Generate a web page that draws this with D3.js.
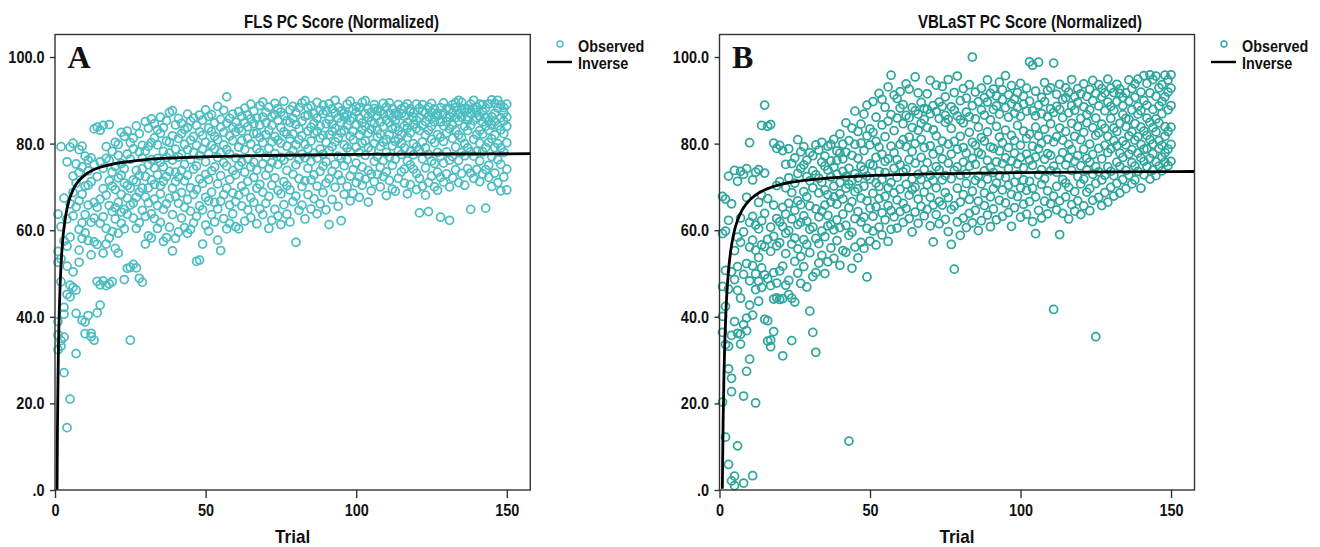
<!DOCTYPE html>
<html>
<head>
<meta charset="utf-8">
<script src="https://cdn.jsdelivr.net/npm/d3@7"></script>
<style>
    body { margin: 0; background: #fff; }
    svg text { font-family: "Liberation Sans", Arial, sans-serif; font-weight: bold; fill: #111; }
</style>
</head>
<body>
<script>
/*eslint-env browser*/
/*global d3 */

// ---------------------------------------------------------------------------
// Data. Each inner list holds the scores of
// one trial (trial 1 first, trial 150 last).
// ---------------------------------------------------------------------------
var trialNumbers = d3.range(1, 151);

var xTicks = [0, 50, 100, 150];
var yTicks = [0, 20, 40, 60, 80, 100];
var yTickLabels = [".0", "20.0", "40.0", "60.0", "80.0", "100.0"];

var titles = ["FLS PC Score (Normalized)", "VBLaST PC Score (Normalized)"];
var panelLetters = ["A", "B"];
var legendLabels = ["Observed", "Inverse"];
var xLabel = "Trial";

// panel A : FLS scores
var flsScores = [
    [32.4, 35.8, 38.9, 52.6, 55.1, 63.7], [33.2, 34.5, 48.1, 53.4, 60.8, 79.3],
    [27.1, 35.3, 40.6, 42.2, 57.5, 67.4], [14.4, 45.2, 51.7, 56.3, 62.6, 75.8],
    [21.0, 44.6, 47.3, 58.4, 66.1, 79.2], [46.8, 50.4, 63.3, 68.7, 72.5, 80.1],
    [31.5, 40.8, 46.2, 65.4, 70.9, 75.3], [52.6, 55.4, 60.2, 66.8, 73.3, 78.6],
    [39.2, 58.1, 61.7, 68.3, 74.6, 79.4], [36.1, 38.8, 59.4, 63.6, 70.2, 77.1],
    [40.3, 57.6, 65.8, 70.4, 73.7, 76.2], [35.4, 36.2, 54.3, 61.8, 71.2, 76.7],
    [34.6, 57.3, 62.8, 66.4, 75.2, 83.4], [40.9, 48.2, 56.7, 65.3, 72.4, 83.8],
    [42.7, 47.4, 61.6, 67.2, 75.8, 83.1], [48.3, 54.7, 63.1, 69.6, 74.3, 84.2],
    [47.2, 56.8, 60.4, 68.1, 76.6, 79.3], [47.6, 58.2, 65.7, 71.4, 76.1, 84.4],
    [48.1, 59.7, 64.3, 70.2, 73.4, 78.2], [55.8, 62.6, 65.2, 69.4, 74.7, 80.3],
    [54.7, 59.3, 66.4, 72.1, 77.3, 79.8], [61.6, 64.2, 68.3, 72.7, 75.4, 82.6],
    [48.6, 60.3, 64.8, 70.9, 74.2, 81.7], [51.2, 63.7, 67.4, 70.3, 77.6, 82.9],
    [34.6, 51.4, 65.8, 69.7, 76.4, 80.2], [52.1, 62.8, 66.3, 71.6, 78.8, 81.3],
    [51.3, 60.4, 67.6, 71.2, 73.8, 84.1], [48.9, 61.7, 68.8, 72.6, 78.1, 82.3],
    [48.0, 64.6, 69.7, 74.2, 76.7, 79.6], [56.8, 63.2, 67.7, 72.4, 78.3, 85.1],
    [58.7, 66.3, 69.8, 75.1, 79.4, 83.6], [58.2, 63.8, 71.6, 76.3, 80.2, 85.7],
    [62.7, 67.2, 70.6, 74.4, 81.3, 84.6], [60.4, 65.7, 72.8, 76.6, 79.7, 83.2],
    [61.8, 68.4, 70.3, 75.7, 82.4, 86.1], [57.4, 64.8, 71.3, 74.6, 78.2, 83.7],
    [58.3, 66.1, 72.4, 76.8, 80.6, 85.3], [60.7, 67.4, 73.6, 77.8, 80.3, 87.2],
    [55.2, 63.6, 69.7, 76.2, 81.8, 87.6], [58.1, 67.8, 71.2, 73.4, 78.7, 84.3],
    [59.6, 66.2, 72.3, 76.9, 81.2, 85.8], [62.8, 68.7, 73.8, 77.6, 82.3, 84.7],
    [60.6, 65.3, 71.4, 75.2, 79.8, 83.3], [59.3, 67.1, 72.7, 78.6, 83.7, 86.8],
    [60.2, 64.4, 69.8, 76.3, 80.8, 85.2], [61.7, 68.3, 74.1, 77.9, 81.6, 85.9],
    [52.8, 63.2, 69.4, 74.8, 79.6, 84.2], [53.1, 65.6, 71.8, 77.2, 82.7, 86.6],
    [56.8, 64.7, 70.8, 78.7, 81.9, 85.4], [61.2, 67.6, 72.9, 75.8, 80.3, 87.8],
    [59.8, 66.8, 71.7, 77.7, 83.6, 86.3], [63.6, 68.8, 73.7, 79.6, 82.8, 86.7],
    [61.9, 66.4, 74.6, 78.8, 81.7, 84.8], [57.7, 64.9, 70.7, 76.8, 80.9, 88.6],
    [55.3, 66.7, 72.6, 77.9, 83.8, 85.6], [62.7, 68.2, 75.6, 79.7, 82.6, 87.7],
    [60.3, 69.7, 74.8, 78.6, 84.7, 90.8], [61.6, 65.8, 71.7, 77.6, 81.8, 85.8],
    [63.8, 68.6, 73.8, 80.7, 83.8, 86.8], [60.8, 66.6, 72.8, 76.7, 82.7, 84.9],
    [60.3, 68.1, 74.9, 79.2, 83.5, 87.4], [65.6, 70.2, 75.8, 80.7, 82.9, 86.3],
    [62.1, 68.9, 73.4, 78.6, 84.8, 88.2], [64.7, 71.3, 76.5, 81.2, 83.9, 86.6],
    [62.9, 67.5, 74.6, 79.9, 85.7, 89.1], [66.4, 72.2, 75.7, 82.3, 84.6, 87.5],
    [61.5, 69.7, 73.9, 78.8, 82.4, 85.9], [64.9, 70.6, 77.9, 81.4, 84.3, 88.8],
    [63.6, 68.8, 75.3, 80.2, 86.1, 89.6], [66.2, 72.7, 76.9, 82.1, 84.8, 87.2],
    [60.4, 67.8, 74.3, 78.9, 83.1, 88.4], [62.3, 70.4, 75.6, 80.4, 84.2, 86.3],
    [64.8, 72.1, 77.7, 81.6, 86.7, 89.3], [63.3, 69.2, 75.2, 80.8, 85.4, 88.1],
    [61.3, 68.4, 76.8, 80.1, 83.7, 87.3], [65.9, 71.2, 76.2, 82.7, 86.4, 89.8],
    [63.7, 70.3, 73.8, 79.4, 82.2, 85.3], [61.9, 69.3, 77.2, 81.1, 84.9, 87.8],
    [66.6, 72.9, 78.4, 82.2, 85.8, 88.6], [57.2, 67.9, 75.1, 79.7, 84.4, 87.1],
    [64.6, 71.9, 76.3, 80.9, 83.4, 88.3], [65.8, 70.1, 77.6, 81.8, 85.2, 89.4],
    [62.6, 71.4, 76.7, 79.8, 86.3, 89.9], [68.2, 74.3, 78.8, 82.9, 86.6, 88.2],
    [64.9, 71.6, 75.9, 80.6, 83.8, 88.7], [67.3, 72.8, 77.8, 82.4, 84.7, 86.9],
    [63.8, 70.2, 76.6, 82.8, 85.9, 89.5], [66.1, 73.6, 78.7, 81.3, 84.1, 87.7],
    [68.7, 74.8, 77.6, 81.9, 86.9, 88.9], [64.7, 70.9, 75.8, 80.3, 84.6, 87.6],
    [61.3, 71.9, 78.4, 82.1, 85.5, 89.2], [67.1, 73.6, 79.3, 82.9, 84.5, 88.0],
    [69.9, 75.2, 80.4, 83.5, 87.1, 90.0], [65.5, 72.8, 77.1, 81.3, 85.9, 88.4],
    [62.2, 71.5, 76.6, 82.5, 84.9, 87.5], [68.3, 74.9, 79.7, 83.0, 86.2, 87.0],
    [70.1, 76.3, 79.0, 84.3, 86.6, 89.1], [66.8, 72.5, 78.1, 81.7, 85.3, 89.8],
    [68.5, 74.0, 80.9, 82.8, 86.0, 87.9], [71.0, 75.5, 79.2, 84.4, 87.3, 88.5],
    [67.6, 72.3, 77.9, 82.0, 85.8, 88.3], [70.4, 74.6, 80.1, 83.2, 84.8, 89.5],
    [71.8, 77.3, 80.6, 84.0, 86.9, 89.9], [66.5, 73.8, 79.1, 82.4, 86.1, 88.0],
    [69.1, 73.0, 78.5, 83.3, 85.1, 87.2], [71.2, 75.9, 80.0, 84.6, 88.1, 89.0],
    [72.9, 77.0, 81.5, 83.1, 86.4, 87.6], [70.0, 74.5, 79.4, 82.2, 85.0, 87.4],
    [72.4, 76.1, 80.3, 83.9, 86.8, 89.3], [68.0, 73.5, 78.0, 81.0, 85.5, 88.4],
    [71.5, 76.9, 82.1, 84.9, 87.0, 89.4], [69.5, 75.0, 79.5, 83.4, 86.0, 88.1],
    [69.0, 76.4, 80.5, 83.8, 85.2, 87.0], [72.0, 78.3, 81.1, 83.0, 86.5, 89.0],
    [73.5, 77.5, 80.1, 82.0, 86.9, 88.0], [70.9, 74.1, 79.0, 84.1, 86.3, 88.5],
    [68.4, 76.0, 81.4, 83.6, 84.9, 89.2], [70.5, 75.1, 78.2, 82.5, 87.4, 88.0],
    [74.1, 77.4, 80.0, 84.5, 86.1, 87.1], [69.4, 73.1, 79.2, 83.5, 85.4, 89.1],
    [64.0, 72.0, 78.5, 83.0, 86.0, 88.2], [70.2, 76.5, 80.4, 84.2, 87.5, 89.0],
    [68.1, 74.4, 79.0, 82.0, 85.1, 87.1], [64.3, 71.0, 77.5, 83.1, 86.2, 88.4],
    [72.5, 76.0, 81.0, 84.0, 87.2, 89.3], [70.0, 75.4, 80.2, 85.0, 86.1, 88.0],
    [69.2, 73.4, 78.0, 82.1, 86.4, 87.0], [63.0, 72.2, 77.1, 81.5, 85.0, 88.3],
    [71.1, 75.5, 80.5, 84.1, 87.0, 89.4], [73.0, 78.1, 82.4, 85.1, 86.0, 88.1],
    [62.3, 70.0, 76.2, 83.4, 86.1, 88.0], [72.1, 77.0, 81.2, 84.3, 87.1, 89.0],
    [74.0, 79.2, 83.1, 86.0, 88.3, 89.4], [71.0, 76.1, 82.0, 85.2, 87.0, 90.0],
    [73.1, 78.0, 81.3, 86.1, 88.0, 89.5], [70.4, 77.2, 80.0, 84.0, 87.3, 88.1],
    [74.2, 79.0, 83.0, 85.4, 86.2, 88.0], [64.8, 73.2, 78.1, 84.2, 87.0, 89.1],
    [72.0, 77.1, 81.0, 85.3, 88.1, 90.0], [74.0, 78.2, 82.1, 86.0, 87.2, 88.4],
    [71.2, 76.0, 80.1, 83.0, 86.3, 89.1], [73.0, 78.1, 82.2, 85.0, 87.4, 89.0],
    [65.1, 74.0, 79.1, 84.0, 86.0, 88.2], [72.2, 75.0, 80.3, 83.1, 85.2, 89.2],
    [70.1, 77.0, 81.1, 84.3, 86.2, 90.1], [73.2, 79.1, 82.0, 85.1, 87.0, 89.3],
    [71.0, 76.3, 80.0, 84.1, 88.2, 90.0], [69.1, 75.2, 79.0, 83.2, 86.0, 89.0],
    [72.3, 78.0, 82.3, 85.2, 87.1, 88.3], [69.3, 74.1, 80.2, 84.0, 86.1, 89.1]
];

// panel B : VBLaST scores
var vblastScores = [
    [20.3, 36.4, 40.1, 47.0, 59.2, 67.8], [12.2, 33.6, 42.4, 50.7, 59.8, 67.2],
    [5.9, 28.0, 33.2, 46.4, 62.3, 72.5], [2.1, 22.7, 25.8, 35.7, 50.4, 66.1],
    [1.0, 3.2, 38.9, 48.6, 55.3, 73.8], [10.2, 36.2, 46.1, 51.6, 58.4, 71.3],
    [33.7, 36.0, 44.3, 57.2, 62.8, 73.6], [1.6, 21.7, 38.2, 49.8, 59.6, 72.9],
    [27.4, 36.8, 39.7, 52.3, 67.6, 74.2], [30.2, 42.7, 48.3, 56.1, 61.8, 80.2],
    [3.3, 40.4, 51.8, 57.7, 63.2, 71.6], [20.1, 46.3, 49.9, 55.4, 61.2, 73.4],
    [43.6, 48.2, 53.7, 60.3, 66.4, 74.0], [46.8, 51.3, 56.6, 62.2, 68.1, 84.2],
    [39.4, 49.7, 56.2, 63.9, 73.2, 88.9], [34.4, 39.1, 48.8, 57.9, 67.3, 84.0],
    [33.1, 34.6, 47.2, 55.1, 60.7, 84.4], [36.6, 44.1, 50.2, 58.6, 65.8, 80.1],
    [44.4, 47.8, 56.4, 62.7, 70.3, 78.9], [44.0, 50.6, 57.1, 61.9, 71.2, 79.6],
    [31.0, 44.2, 51.7, 60.8, 65.3, 78.4], [47.3, 54.6, 59.3, 63.7, 69.8, 75.2],
    [45.1, 48.4, 59.9, 66.2, 72.1, 78.8], [34.5, 44.3, 56.8, 62.6, 68.7, 75.4],
    [43.4, 52.8, 58.2, 64.6, 70.9, 76.7], [50.1, 55.7, 61.3, 66.8, 73.1, 80.9],
    [47.7, 53.9, 61.8, 65.9, 74.3, 78.1], [51.6, 57.8, 63.3, 68.9, 75.1, 79.3],
    [46.9, 56.7, 62.1, 67.7, 72.4, 76.2], [41.3, 54.8, 60.2, 65.6, 71.4, 77.9],
    [36.4, 49.3, 60.7, 69.8, 73.7, 77.2], [31.8, 50.2, 58.1, 64.9, 72.8, 79.7],
    [52.4, 56.9, 63.1, 68.6, 72.0, 78.5], [54.2, 59.8, 64.4, 71.1, 75.7, 80.3],
    [50.0, 58.5, 65.8, 69.3, 74.8, 77.1], [52.7, 61.0, 63.4, 68.2, 73.9, 79.4],
    [55.9, 61.3, 66.5, 72.3, 76.0, 79.8], [53.5, 60.1, 67.7, 70.2, 74.6, 81.0],
    [57.6, 62.4, 66.0, 72.9, 76.1, 78.3], [51.9, 60.6, 68.4, 71.0, 77.8, 82.2],
    [55.3, 63.7, 67.2, 73.6, 76.5, 79.9], [54.9, 61.1, 69.7, 72.4, 78.0, 84.8],
    [11.3, 58.8, 65.2, 70.6, 74.3, 80.7], [51.2, 59.5, 66.6, 71.4, 77.3, 83.6],
    [56.1, 62.7, 68.9, 73.0, 79.8, 87.5], [53.6, 64.3, 69.6, 72.1, 76.6, 82.8],
    [57.2, 61.9, 67.4, 74.7, 80.1, 84.5], [55.8, 63.0, 70.2, 73.9, 78.4, 86.8],
    [49.2, 60.4, 66.8, 72.5, 81.8, 88.9], [57.5, 65.1, 71.8, 75.3, 79.7, 83.4],
    [59.8, 63.2, 68.5, 75.0, 82.6, 89.7], [56.6, 65.4, 70.9, 76.8, 80.5, 86.1],
    [60.7, 67.3, 70.1, 73.6, 79.2, 91.6], [58.9, 64.0, 71.7, 77.5, 84.3, 90.2],
    [62.4, 67.8, 73.3, 75.9, 81.6, 88.4], [57.4, 65.7, 69.8, 76.5, 85.2, 93.1],
    [60.2, 64.5, 71.0, 79.4, 86.7, 95.8], [63.1, 68.6, 74.3, 77.9, 83.0, 91.2],
    [60.5, 67.0, 72.2, 76.3, 85.9, 90.4], [64.3, 69.5, 75.1, 79.8, 88.2, 92.0],
    [61.8, 66.2, 73.5, 80.9, 84.6, 89.0], [65.0, 70.6, 74.1, 79.3, 86.5, 93.8],
    [62.7, 68.1, 76.3, 81.5, 86.0, 92.6], [59.6, 69.4, 71.8, 78.2, 83.7, 88.3],
    [64.2, 69.9, 75.5, 80.0, 87.6, 95.4], [61.6, 67.2, 72.9, 83.1, 86.8, 91.7],
    [65.5, 71.7, 76.8, 81.0, 84.7, 89.5], [63.3, 68.8, 74.0, 79.1, 85.6, 88.1],
    [64.8, 70.5, 75.6, 83.7, 87.9, 91.5], [61.0, 67.6, 72.7, 79.5, 86.9, 94.6],
    [57.3, 65.8, 71.5, 77.6, 83.2, 88.8], [63.6, 69.8, 74.7, 81.8, 87.4, 93.5],
    [61.5, 66.6, 73.9, 78.5, 85.8, 89.6], [65.8, 71.6, 76.5, 80.6, 88.6, 93.2],
    [62.5, 68.7, 72.6, 84.9, 86.5, 90.8], [59.7, 67.5, 75.5, 79.9, 85.6, 94.8],
    [56.7, 64.8, 71.9, 77.6, 83.5, 88.5], [51.0, 65.6, 73.8, 80.5, 87.7, 91.8],
    [61.9, 69.7, 74.6, 78.7, 86.4, 95.6], [58.8, 66.5, 72.7, 81.7, 85.5, 89.9],
    [62.8, 68.2, 75.7, 79.1, 84.8, 92.7], [60.6, 70.8, 73.0, 77.8, 87.3, 90.5],
    [63.9, 67.1, 74.8, 82.6, 86.2, 93.6], [61.7, 69.0, 76.6, 80.3, 88.8, 100.0],
    [64.6, 71.5, 75.2, 79.6, 85.7, 91.9], [59.9, 66.7, 72.5, 78.0, 83.8, 89.7],
    [62.2, 70.7, 77.5, 81.4, 87.8, 92.8], [65.7, 68.6, 73.7, 80.6, 86.6, 90.6],
    [63.5, 71.8, 76.1, 82.7, 89.6, 94.7], [60.8, 67.7, 74.5, 79.2, 85.5, 91.6],
    [64.9, 69.6, 73.3, 78.9, 87.9, 92.6], [62.4, 70.9, 75.8, 84.0, 88.7, 91.0],
    [66.9, 72.6, 78.3, 81.5, 86.8, 94.2], [63.2, 69.3, 75.4, 80.2, 90.2, 92.4],
    [66.3, 72.2, 76.7, 83.1, 88.3, 95.7], [64.1, 70.4, 74.2, 79.1, 86.1, 91.3],
    [60.9, 68.3, 76.0, 81.9, 89.2, 93.4], [65.2, 71.1, 77.8, 80.7, 87.0, 90.3],
    [67.8, 72.8, 75.3, 84.2, 88.4, 91.8], [63.0, 69.8, 76.8, 79.6, 86.3, 93.9],
    [66.0, 71.6, 74.4, 82.9, 89.1, 90.9], [63.7, 69.2, 77.6, 81.2, 87.5, 92.8],
    [66.6, 71.3, 76.2, 82.2, 89.8, 98.9], [62.0, 69.7, 75.0, 79.4, 87.6, 98.1],
    [59.2, 67.7, 76.9, 83.8, 86.4, 92.1], [64.6, 72.8, 78.8, 81.8, 88.9, 98.8],
    [62.8, 70.6, 74.0, 80.1, 86.9, 90.7], [66.7, 71.9, 76.4, 83.3, 89.7, 94.1],
    [63.8, 69.1, 77.7, 81.0, 86.2, 92.3], [66.1, 73.7, 77.3, 84.6, 88.0, 92.9],
    [41.7, 67.9, 74.8, 80.4, 87.2, 98.6], [64.7, 70.1, 73.4, 81.6, 88.6, 91.4],
    [59.0, 66.8, 76.3, 83.6, 87.9, 93.7], [63.9, 71.7, 77.9, 80.8, 86.0, 90.2],
    [67.7, 70.9, 75.1, 82.8, 90.6, 92.9], [62.6, 69.9, 76.7, 79.8, 87.1, 91.9],
    [65.9, 73.8, 78.6, 84.7, 88.8, 94.8], [64.4, 68.9, 75.9, 81.7, 87.7, 90.8],
    [66.8, 72.4, 77.2, 83.9, 89.5, 92.7], [63.6, 70.7, 74.9, 80.9, 85.8, 91.5],
    [65.6, 71.8, 78.7, 82.6, 88.5, 93.8], [68.8, 73.9, 76.6, 84.8, 86.7, 90.9],
    [64.5, 69.6, 75.7, 79.9, 87.8, 92.5], [66.9, 72.9, 77.5, 83.7, 89.9, 94.6],
    [35.4, 70.8, 74.7, 81.9, 85.9, 91.6], [67.6, 73.5, 78.9, 82.5, 88.7, 93.6],
    [65.7, 71.6, 76.5, 84.5, 90.8, 92.7], [68.7, 72.7, 79.6, 83.5, 87.6, 91.7],
    [66.5, 74.6, 77.9, 81.7, 89.6, 94.9], [69.9, 73.6, 78.8, 85.8, 88.6, 92.8],
    [67.9, 72.6, 80.7, 83.6, 87.7, 91.8], [70.8, 75.7, 79.5, 82.8, 89.7, 93.7],
    [68.6, 74.7, 77.8, 84.7, 91.6, 92.6], [71.7, 76.8, 80.6, 86.7, 88.8, 90.6],
    [69.6, 73.8, 79.7, 83.9, 85.8, 91.7], [72.7, 77.6, 81.8, 85.6, 89.8, 94.7],
    [70.7, 75.6, 78.6, 82.7, 87.8, 92.7], [71.6, 74.8, 80.8, 84.6, 90.7, 93.8],
    [73.6, 77.8, 81.6, 86.8, 88.6, 94.9], [69.7, 76.7, 79.8, 83.8, 87.6, 91.9],
    [72.8, 75.9, 78.7, 82.9, 89.9, 95.7], [74.7, 78.8, 81.9, 85.9, 88.9, 93.9],
    [71.8, 76.6, 80.9, 84.9, 91.7, 95.9], [73.9, 77.7, 79.9, 83.7, 87.9, 94.8],
    [72.6, 75.8, 82.7, 85.7, 90.9, 95.6], [74.8, 78.9, 80.7, 84.8, 88.7, 92.9],
    [73.7, 76.9, 79.6, 86.9, 89.7, 93.6], [75.7, 77.9, 81.7, 83.9, 90.8, 95.8],
    [74.9, 78.7, 82.8, 87.8, 91.9, 94.7], [75.9, 79.8, 83.8, 88.8, 92.8, 95.9]
];

// fitted "Inverse" curves at these trials
var flsCurveTrials = [0.67, 0.8, 1, 1.2, 1.43, 1.7, 2, 2.4, 2.76, 3.3, 4, 4.4,
    5, 6, 7, 8.3, 10, 12, 16, 20, 25, 30, 40, 52, 70, 100, 130, 157.8];
var flsCurveScores = [0, 13, 26, 34.7, 41.6, 47.4, 52, 56.3, 59.2, 62.2, 65,
    66.2, 67.6, 69.3, 70.6, 71.7, 72.8, 73.7, 74.75, 75.4, 75.9, 76.3, 76.7,
    77.0, 77.26, 77.5, 77.6, 77.67];

var vblastCurveTrials = [0.95, 1, 1.2, 1.5, 1.8, 2.16, 2.6, 3, 3.5, 4, 5.1, 6,
    7.4, 9, 12.3, 16, 21, 28, 35.5, 50, 70, 100, 130, 157.8];
var vblastCurveScores = [0.3, 4, 15.7, 27.3, 35.1, 41.6, 47.1, 50.7, 54, 56.5,
    60.3, 62.3, 64.5, 66.2, 68.3, 69.6, 70.7, 71.5, 72.0, 72.6, 73.0, 73.3,
    73.46, 73.56];

// ---------------------------------------------------------------------------
// Layout of the two panels (pixels)
// ---------------------------------------------------------------------------
var plotTop = 34.5,
    plotBottom = 490,
    width = 1320,
    height = 547;

var panels = [
    {left: 55, right: 530.3, scores: flsScores, curveX: flsCurveTrials,
        curveY: flsCurveScores, color: "#4cbdc1", titleX: 341.5, legendX: 547},
    {left: 719.5, right: 1194.5, scores: vblastScores, curveX: vblastCurveTrials,
        curveY: vblastCurveScores, color: "#2ea69d", titleX: 1030, legendX: 1211}
];

var svg = d3.select("body").append("svg")
    .attr("width", width)
    .attr("height", height);

panels.forEach(function(p, k) {
    var xScale = d3.scaleLinear().domain([0, 157.8]).range([p.left, p.right]);
    var yScale = d3.scaleLinear().domain([0, 105.2]).range([plotBottom, plotTop]);

    var g = svg.append("g");

    // flatten trial -> list of scores into points
    var points = [];
    p.scores.forEach(function(list, i) {
        list.forEach(function(v) {
            points.push({trial: trialNumbers[i], score: v});
        });
    });

    // observed points, open circles
    g.selectAll("circle.obs")
        .data(points)
        .enter()
        .append("circle")
        .attr("class", "obs")
        .attr("cx", function(d) { return xScale(d.trial); })
        .attr("cy", function(d) { return yScale(d.score); })
        .attr("r", 4)
        .attr("fill", "none")
        .attr("stroke", p.color)
        .attr("stroke-width", 1.75);

    // the inverse fit
    var curve = p.curveX.map(function(t, i) { return [t, p.curveY[i]]; });
    var line = d3.line()
        .x(function(d) { return xScale(d[0]); })
        .y(function(d) { return yScale(d[1]); })
        .curve(d3.curveMonotoneX);
    g.append("path")
        .datum(curve)
        .attr("d", line)
        .attr("fill", "none")
        .attr("stroke", "#000")
        .attr("stroke-width", 2.8);

    // frame around the plot
    g.append("rect")
        .attr("x", p.left)
        .attr("y", plotTop)
        .attr("width", p.right - p.left)
        .attr("height", plotBottom - plotTop)
        .attr("fill", "none")
        .attr("stroke", "#333")
        .attr("stroke-width", 1.4);

    // axes
    var yAxis = d3.axisLeft(yScale)
        .tickValues(yTicks)
        .tickFormat(function(d, i) { return yTickLabels[i]; })
        .tickSize(5)
        .tickPadding(5.5);
    var xAxis = d3.axisBottom(xScale)
        .tickValues(xTicks)
        .tickSize(8)
        .tickPadding(6);

    var ya = g.append("g")
        .attr("transform", "translate(" + p.left + ",0)")
        .call(yAxis);
    var xa = g.append("g")
        .attr("transform", "translate(0," + plotBottom + ")")
        .call(xAxis);
    [ya, xa].forEach(function(a) {
        a.select(".domain").remove();
        a.selectAll("line").attr("stroke", "#333").attr("stroke-width", 1.4);
        a.selectAll("text")
            .attr("class", "sans")
            .attr("data-sq", 0.85)
            .attr("font-size", "17px")
            .attr("font-family", null)
            .attr("fill", "#111");
    });

    // titles and labels
    g.append("text")
        .attr("class", "sans")
        .attr("data-sq", 0.86)
        .attr("x", p.titleX)
        .attr("y", 28)
        .attr("text-anchor", "middle")
        .attr("font-size", "17.5px")
        .text(titles[k]);

    g.append("text")
        .attr("class", "sans")
        .attr("data-sq", 0.9)
        .attr("x", (p.left + p.right) / 2)
        .attr("y", 543)
        .attr("text-anchor", "middle")
        .attr("font-size", "19px")
        .text(xLabel);

    g.append("text")
        .attr("x", p.left + 12.5)
        .attr("y", 68.3)
        .style("font-family", "'Liberation Serif', 'Times New Roman', serif")
        .attr("font-size", "32px")
        .text(panelLetters[k]);

    // legend
    g.append("circle")
        .attr("cx", p.legendX + 13)
        .attr("cy", 44)
        .attr("r", 3)
        .attr("fill", "none")
        .attr("stroke", p.color)
        .attr("stroke-width", 1.4);
    g.append("line")
        .attr("x1", p.legendX)
        .attr("x2", p.legendX + 25)
        .attr("y1", 62)
        .attr("y2", 62)
        .attr("stroke", "#000")
        .attr("stroke-width", 2.4);
    g.selectAll("text.leg")
        .data(legendLabels)
        .enter()
        .append("text")
        .attr("class", "sans")
        .attr("data-sq", 0.87)
        .attr("x", p.legendX + 31)
        .attr("y", function(d, i) { return i === 0 ? 51.5 : 68.5; })
        .attr("font-size", "16.5px")
        .text(function(d) { return d; });
});

// the original uses a narrow bold face: squeeze the sans texts a little
svg.selectAll("text.sans").each(function() {
    var w = this.getComputedTextLength();
    var sq = +this.getAttribute("data-sq");
    d3.select(this)
        .attr("textLength", w * sq)
        .attr("lengthAdjust", "spacingAndGlyphs");
});
</script>
</body>
</html>
